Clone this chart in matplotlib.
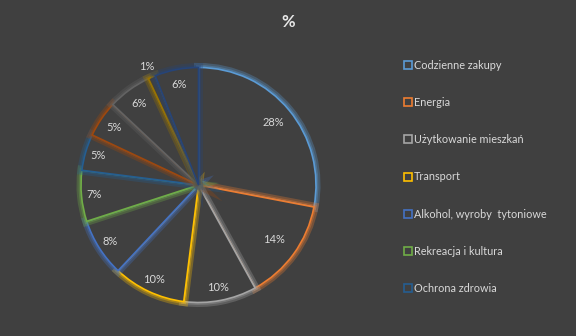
import matplotlib
matplotlib.use("Agg")
import numpy as np
import matplotlib.pyplot as plt
from matplotlib.patches import Patch
import matplotlib.patheffects as pe

plt.rcParams["font.family"] = ["Lato", "DejaVu Sans"]

values = [28, 14, 10, 10, 8, 7, 5, 5, 6, 1, 6]
colors = ["#5B9BD5", "#ED7D31", "#A5A5A5", "#FFC000", "#4472C4", "#70AD47",
          "#255E91", "#9E480E", "#636363", "#997300", "#264478"]
legend_labels = ["Codzienne zakupy", "Energia", "Użytkowanie mieszkań", "Transport",
                 "Alkohol, wyroby  tytoniowe", "Rekreacja i kultura", "Ochrona zdrowia"]
label_dist = [0.83, 0.79, 0.89, 0.89, 0.89, 0.89, 0.89, 0.87, 0.86, 1.1, 0.87]

bg = "#404040"
txt = "#D9D9D9"

fig = plt.figure(figsize=(5.76, 3.36), dpi=100, facecolor=bg)
cx, cy, r = 198.5, 185, 117.5
lim = 1.2
w = 2 * r * lim
ax = fig.add_axes([(cx - r * lim) / 576, (336 - cy - r * lim) / 336, w / 576, w / 336])
ax.set_facecolor(bg)

wedges, texts, autotexts = ax.pie(
    values, colors=colors, startangle=90, counterclock=False, radius=1,
    autopct=lambda p: f"{p:.0f}%", pctdistance=0.85,
    wedgeprops=dict(facecolor=bg, linewidth=1.2),
    textprops=dict(color=txt, fontsize=8))
for wd, c in zip(wedges, colors):
    wd.set_facecolor(bg)
    wd.set_edgecolor(c)
    wd.set_path_effects([pe.Stroke(linewidth=6.5, foreground=c, alpha=0.3),
                         pe.Stroke(linewidth=3.5, foreground=c, alpha=0.35), pe.Normal()])
for wd, t, d in zip(wedges, autotexts, label_dist):
    ang = np.deg2rad((wd.theta1 + wd.theta2) / 2)
    t.set_position((d * np.cos(ang), d * np.sin(ang)))
ax.set_xlim(-lim, lim)
ax.set_ylim(-lim, lim)
ax.set_aspect("equal")
ax.axis("off")

fig.text(288 / 576, 1 - 22 / 336, "%", color="#E8E8E8", fontsize=12, fontweight="bold",
         ha="center", va="center")

handles = [Patch(facecolor="none", edgecolor=c, linewidth=1.2) for c in colors[:7]]
leg = fig.legend(handles, legend_labels, loc="upper left",
                 bbox_to_anchor=(394 / 576, 1 - 50 / 336), frameon=False,
                 fontsize=7.8, labelcolor=txt, labelspacing=2.42,
                 handlelength=0.75, handleheight=0.75, handletextpad=0.2)

fig.savefig("out.png", dpi=100, facecolor=bg)
